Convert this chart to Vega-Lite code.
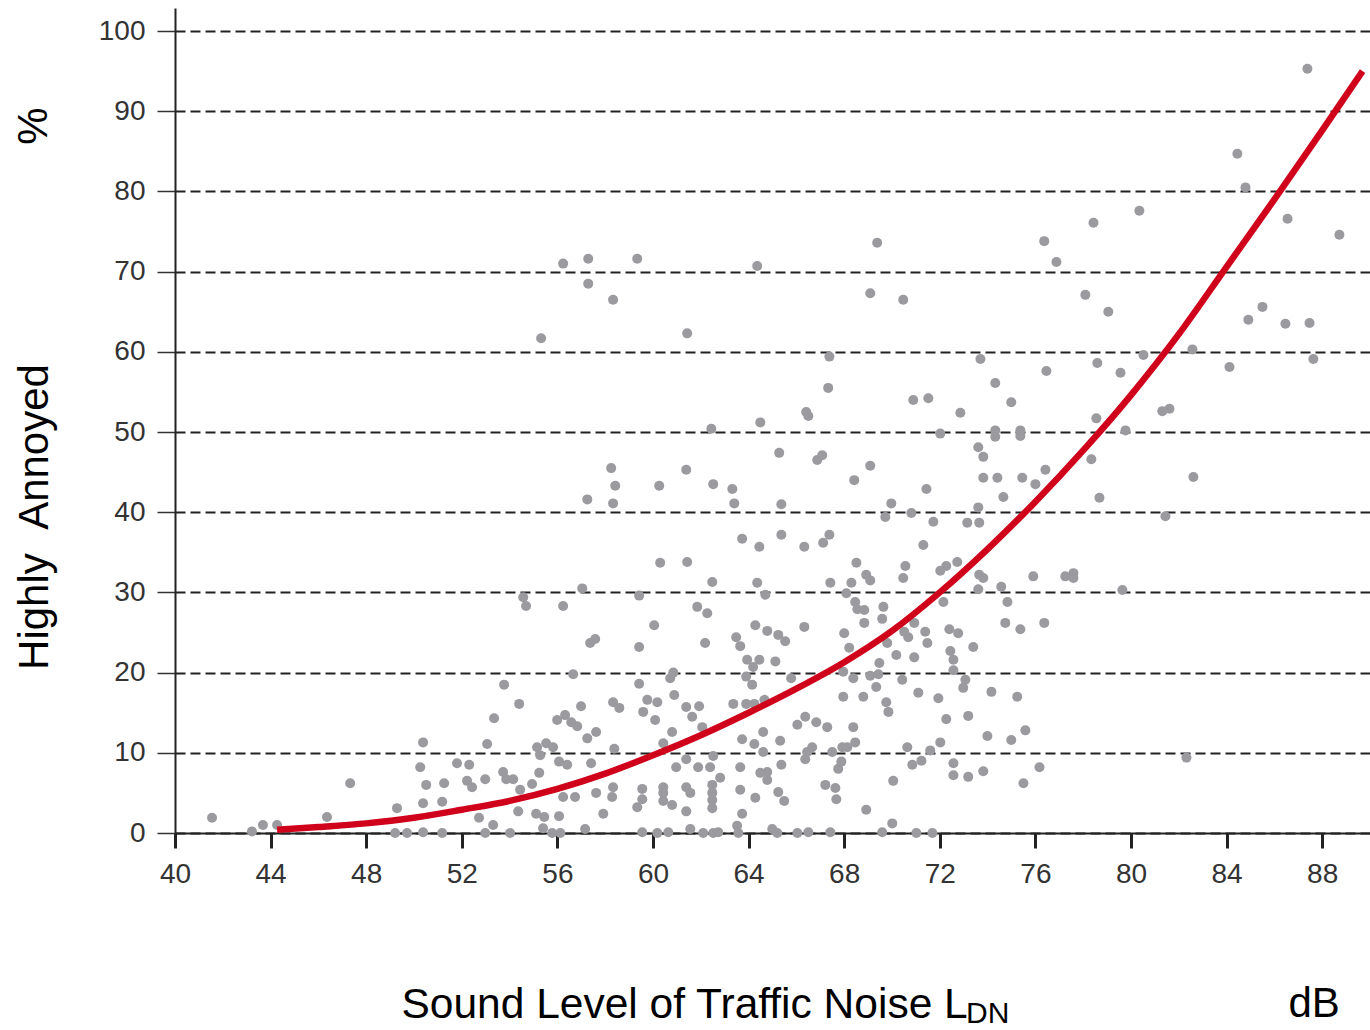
{
"$schema": "https://vega.github.io/schema/vega-lite/v6.json",
"width": 1195, "height": 825,
"autosize": {"type": "none"},
"padding": {"left": 175, "top": 8, "right": 0, "bottom": 197},
"background": "white",
"config": {"font": "Liberation Sans", "view": {"stroke": null}},
"datasets": {
"survey": [
{"L":41.55,"HA":1.9},{"L":43.22,"HA":0.2},{"L":43.68,"HA":1.0},{"L":44.27,"HA":1.0},{"L":46.36,"HA":2.0},{"L":47.33,"HA":6.2},{"L":49.29,"HA":3.1},{"L":49.21,"HA":0},{"L":49.71,"HA":0},{"L":50.38,"HA":11.3},{"L":50.26,"HA":8.2},{"L":50.51,"HA":6.0},{"L":50.38,"HA":3.7},{"L":50.38,"HA":0.1},{"L":51.26,"HA":6.2},{"L":51.18,"HA":3.9},{"L":51.18,"HA":0},{"L":51.80,"HA":8.7},{"L":52.31,"HA":8.5},{"L":52.22,"HA":6.5},{"L":52.43,"HA":5.7},{"L":52.72,"HA":1.9},
{"L":60.30,"HA":33.7},{"L":61.43,"HA":33.8},{"L":62.48,"HA":31.3},{"L":57.04,"HA":30.5},{"L":54.57,"HA":29.4},{"L":54.69,"HA":28.3},{"L":56.24,"HA":28.3},{"L":59.42,"HA":29.6},{"L":61.85,"HA":28.2},{"L":62.27,"HA":27.4},{"L":60.05,"HA":25.9},{"L":57.37,"HA":23.7},{"L":57.58,"HA":24.2},{"L":59.42,"HA":23.2},{"L":62.18,"HA":23.7},{"L":56.66,"HA":19.8},{"L":60.72,"HA":19.3},{"L":60.85,"HA":20.0},{"L":53.77,"HA":18.5},{"L":59.42,"HA":18.6},{"L":60.89,"HA":17.2},{"L":54.40,"HA":16.1},{"L":56.99,"HA":15.8},{"L":58.33,"HA":16.3},{"L":58.59,"HA":15.6},{"L":59.76,"HA":16.6},{"L":60.18,"HA":16.3},{"L":61.39,"HA":15.7},{"L":61.93,"HA":15.8},{"L":59.59,"HA":15.1},{"L":53.35,"HA":14.3},{"L":55.99,"HA":14.1},{"L":56.32,"HA":14.7},{"L":56.58,"HA":13.8},{"L":56.83,"HA":13.3},{"L":60.09,"HA":14.1},{"L":61.64,"HA":14.5},{"L":62.06,"HA":13.2},{"L":57.62,"HA":12.6},{"L":57.25,"HA":11.8},{"L":60.80,"HA":12.6},{"L":53.06,"HA":11.1},{"L":60.43,"HA":11.2},{"L":55.15,"HA":10.7},{"L":55.53,"HA":11.2},{"L":55.82,"HA":10.7},{"L":55.28,"HA":9.7},{"L":58.38,"HA":10.5},{"L":56.07,"HA":8.9},{"L":56.41,"HA":8.5},{"L":57.41,"HA":8.7},{"L":61.39,"HA":9.2},{"L":60.97,"HA":8.2},{"L":61.89,"HA":8.2},{"L":62.39,"HA":8.2},{"L":62.52,"HA":9.6},{"L":53.73,"HA":7.6},{"L":55.24,"HA":7.5},{"L":52.98,"HA":6.7},{"L":53.86,"HA":6.7},{"L":54.15,"HA":6.7},{"L":54.44,"HA":5.4},{"L":54.94,"HA":6.1},{"L":58.33,"HA":5.7},{"L":57.62,"HA":5.0},{"L":56.24,"HA":4.5},{"L":56.74,"HA":4.5},{"L":58.29,"HA":4.5},{"L":59.55,"HA":5.5},{"L":60.43,"HA":5.7},{"L":60.43,"HA":5.0},{"L":61.39,"HA":5.7},{"L":61.56,"HA":5.0},{"L":62.48,"HA":6.0},{"L":62.81,"HA":6.9},{"L":62.48,"HA":5.0},{"L":59.55,"HA":4.2},{"L":59.34,"HA":3.2},{"L":60.43,"HA":4.0},{"L":60.80,"HA":3.5},{"L":62.48,"HA":4.1},{"L":62.48,"HA":3.1},{"L":54.36,"HA":2.7},{"L":55.11,"HA":2.4},{"L":55.45,"HA":2.0},{"L":56.07,"HA":2.1},{"L":57.92,"HA":2.4},{"L":61.39,"HA":2.7},{"L":53.31,"HA":1.0},
{"L":52.98,"HA":0},{"L":54.02,"HA":0},{"L":55.40,"HA":0.6},{"L":55.78,"HA":0},{"L":56.12,"HA":0},{"L":57.16,"HA":0.5},{"L":59.55,"HA":0.1},{"L":60.18,"HA":0},{"L":60.64,"HA":0.1},{"L":61.56,"HA":0.5},{"L":62.10,"HA":0},{"L":62.52,"HA":0},{"L":62.73,"HA":0.1},{"L":63.52,"HA":0.9},{"L":63.57,"HA":0},{"L":64.99,"HA":0.5},{"L":65.20,"HA":0},{"L":66.04,"HA":0},{"L":66.50,"HA":0.1},{"L":67.42,"HA":0.1},{"L":69.59,"HA":0.1},{"L":70.01,"HA":1.2},{"L":71.02,"HA":0},{"L":71.69,"HA":0},
{"L":68.51,"HA":33.7},{"L":70.56,"HA":33.3},{"L":70.47,"HA":31.8},{"L":72.02,"HA":32.7},{"L":72.27,"HA":33.3},{"L":64.36,"HA":31.2},{"L":64.70,"HA":29.7},{"L":67.42,"HA":31.2},{"L":68.30,"HA":31.2},{"L":68.09,"HA":29.9},{"L":68.92,"HA":32.2},{"L":69.09,"HA":31.5},{"L":68.46,"HA":28.8},{"L":68.55,"HA":27.9},{"L":68.84,"HA":27.8},{"L":69.64,"HA":28.2},{"L":69.59,"HA":26.7},{"L":68.84,"HA":26.2},{"L":72.15,"HA":28.8},{"L":64.28,"HA":25.9},{"L":64.78,"HA":25.2},{"L":66.33,"HA":25.7},{"L":63.48,"HA":24.4},{"L":63.65,"HA":23.3},{"L":65.24,"HA":24.7},{"L":65.53,"HA":23.9},{"L":68.00,"HA":24.9},{"L":68.21,"HA":23.1},{"L":69.80,"HA":23.7},{"L":70.51,"HA":25.1},{"L":70.68,"HA":24.4},{"L":70.93,"HA":26.2},{"L":71.39,"HA":25.1},{"L":71.48,"HA":23.7},{"L":72.40,"HA":25.4},{"L":72.77,"HA":24.9},{"L":72.44,"HA":22.7},{"L":72.57,"HA":21.6},{"L":70.18,"HA":22.2},{"L":70.93,"HA":21.9},{"L":63.94,"HA":21.6},{"L":64.45,"HA":21.6},{"L":65.12,"HA":21.4},{"L":64.19,"HA":20.7},{"L":63.90,"HA":19.5},{"L":64.15,"HA":18.5},{"L":65.78,"HA":19.3},{"L":67.96,"HA":20.1},{"L":68.38,"HA":19.3},{"L":69.09,"HA":19.6},{"L":69.47,"HA":21.2},{"L":69.43,"HA":19.8},{"L":69.34,"HA":18.2},{"L":70.43,"HA":19.1},{"L":72.57,"HA":20.3},{"L":63.36,"HA":16.1},{"L":63.90,"HA":16.1},{"L":64.24,"HA":16.1},{"L":64.66,"HA":16.6},{"L":67.96,"HA":17.0},{"L":68.80,"HA":17.0},{"L":69.76,"HA":16.3},{"L":69.85,"HA":15.1},{"L":71.10,"HA":17.5},{"L":71.94,"HA":16.8},{"L":72.27,"HA":14.2},{"L":66.37,"HA":14.5},{"L":66.83,"HA":13.8},{"L":66.04,"HA":13.5},{"L":67.29,"HA":13.2},{"L":68.38,"HA":13.2},{"L":64.61,"HA":12.6},{"L":63.73,"HA":11.7},{"L":65.32,"HA":11.5},{"L":64.24,"HA":11.1},{"L":64.61,"HA":10.1},{"L":66.66,"HA":10.7},{"L":66.45,"HA":10.1},{"L":66.37,"HA":9.2},{"L":67.50,"HA":10.1},{"L":67.92,"HA":10.7},{"L":68.13,"HA":10.7},{"L":68.46,"HA":11.3},{"L":67.88,"HA":8.9},{"L":67.75,"HA":8.0},{"L":70.64,"HA":10.7},{"L":71.60,"HA":10.3},{"L":72.02,"HA":11.3},{"L":71.23,"HA":9.0},{"L":70.85,"HA":8.5},{"L":72.57,"HA":8.7},{"L":72.57,"HA":7.2},{"L":63.65,"HA":8.2},{"L":64.49,"HA":7.5},{"L":64.78,"HA":7.6},{"L":64.78,"HA":6.6},{"L":65.37,"HA":8.5},{"L":63.65,"HA":5.4},{"L":65.24,"HA":5.1},{"L":65.49,"HA":4.0},{"L":64.28,"HA":4.4},{"L":67.21,"HA":6.0},{"L":67.63,"HA":5.6},{"L":67.67,"HA":4.2},{"L":70.05,"HA":6.5},{"L":63.73,"HA":2.4},{"L":68.92,"HA":2.9},
{"L":72.73,"HA":33.8},{"L":73.65,"HA":32.2},{"L":73.82,"HA":31.8},{"L":73.61,"HA":30.4},{"L":74.57,"HA":30.7},{"L":75.91,"HA":32.0},{"L":77.25,"HA":32.0},{"L":77.59,"HA":32.4},{"L":77.59,"HA":31.8},{"L":79.64,"HA":30.3},{"L":74.83,"HA":28.8},{"L":74.74,"HA":26.2},{"L":75.37,"HA":25.4},{"L":76.37,"HA":26.2},{"L":73.40,"HA":23.2},{"L":73.07,"HA":19.1},{"L":72.98,"HA":18.1},{"L":74.16,"HA":17.6},{"L":75.24,"HA":17.0},{"L":73.19,"HA":14.6},{"L":73.99,"HA":12.1},{"L":74.99,"HA":11.6},{"L":75.58,"HA":12.8},{"L":73.19,"HA":7.0},{"L":73.82,"HA":7.7},{"L":75.50,"HA":6.2},{"L":76.17,"HA":8.2},{"L":82.32,"HA":9.4},
{"L":56.24,"HA":71.0},{"L":57.29,"HA":71.6},{"L":57.29,"HA":68.5},{"L":58.33,"HA":66.5},{"L":59.34,"HA":71.6},{"L":64.36,"HA":70.7},{"L":69.38,"HA":73.6},{"L":69.09,"HA":67.3},{"L":70.47,"HA":66.5},{"L":55.32,"HA":61.7},{"L":61.43,"HA":62.3},{"L":67.38,"HA":59.4},{"L":67.33,"HA":55.5},{"L":70.89,"HA":54.0},{"L":71.52,"HA":54.2},{"L":72.86,"HA":52.4},{"L":66.41,"HA":52.5},{"L":66.50,"HA":52.0},{"L":64.49,"HA":51.2},{"L":62.44,"HA":50.4},{"L":72.02,"HA":49.8},{"L":65.28,"HA":47.4},{"L":66.87,"HA":46.5},{"L":67.08,"HA":47.1},{"L":58.25,"HA":45.5},{"L":61.39,"HA":45.3},{"L":69.09,"HA":45.8},{"L":58.42,"HA":43.3},{"L":60.26,"HA":43.3},{"L":62.52,"HA":43.5},{"L":63.32,"HA":42.9},{"L":68.42,"HA":44.0},{"L":71.44,"HA":42.9},{"L":57.25,"HA":41.6},{"L":58.33,"HA":41.1},{"L":63.40,"HA":41.1},{"L":65.37,"HA":41.0},{"L":69.97,"HA":41.1},{"L":69.72,"HA":39.4},{"L":70.81,"HA":39.9},{"L":71.73,"HA":38.8},{"L":63.73,"HA":36.7},{"L":64.45,"HA":35.7},{"L":65.37,"HA":37.2},{"L":66.33,"HA":35.7},{"L":67.12,"HA":36.2},{"L":67.38,"HA":37.2},{"L":71.31,"HA":35.9},
{"L":87.38,"HA":95.3},{"L":84.45,"HA":84.7},{"L":84.79,"HA":80.5},{"L":80.35,"HA":77.6},{"L":78.43,"HA":76.1},{"L":76.37,"HA":73.8},{"L":86.55,"HA":76.6},{"L":88.72,"HA":74.6},{"L":76.88,"HA":71.2},{"L":78.09,"HA":67.1},{"L":79.05,"HA":65.0},{"L":85.50,"HA":65.6},{"L":84.91,"HA":64.0},{"L":86.46,"HA":63.5},{"L":87.47,"HA":63.6},{"L":82.57,"HA":60.3},{"L":80.52,"HA":59.6},{"L":78.59,"HA":58.6},{"L":79.56,"HA":57.4},{"L":84.12,"HA":58.1},{"L":87.63,"HA":59.1},{"L":73.70,"HA":59.1},{"L":76.46,"HA":57.6},{"L":74.32,"HA":56.1},{"L":74.99,"HA":53.7},{"L":81.31,"HA":52.6},{"L":81.61,"HA":52.9},{"L":78.55,"HA":51.7},{"L":79.77,"HA":50.2},{"L":74.32,"HA":50.2},{"L":74.32,"HA":49.4},{"L":75.37,"HA":50.2},{"L":75.37,"HA":49.5},{"L":73.61,"HA":48.1},{"L":73.82,"HA":46.9},{"L":73.82,"HA":44.3},{"L":74.41,"HA":44.3},{"L":75.45,"HA":44.3},{"L":76.00,"HA":43.5},{"L":76.42,"HA":45.3},{"L":78.34,"HA":46.6},{"L":74.66,"HA":41.9},{"L":78.68,"HA":41.8},{"L":82.61,"HA":44.4},{"L":73.61,"HA":40.6},{"L":73.15,"HA":38.7},{"L":73.65,"HA":38.7},{"L":81.44,"HA":39.5}
],
"fit": [
{"L":44.27,"HA":0.4},{"L":46,"HA":0.75},{"L":48,"HA":1.2},{"L":50,"HA":1.9},{"L":52,"HA":2.9},{"L":54,"HA":4.0},{"L":56,"HA":5.5},{"L":58,"HA":7.4},{"L":60,"HA":9.7},{"L":62,"HA":12.2},{"L":64,"HA":15.0},{"L":66,"HA":18.0},{"L":68,"HA":21.3},{"L":70,"HA":25.2},{"L":72,"HA":30.0},{"L":74,"HA":35.4},{"L":76,"HA":41.3},{"L":78,"HA":47.7},{"L":80,"HA":54.6},{"L":82,"HA":62.2},{"L":84,"HA":70.6},{"L":86,"HA":79.0},{"L":88,"HA":87.6},{"L":89.69,"HA":95.0}
],
"pct": [{"label": "%"}],
"sub": [{"label": "DN"}],
"unit": [{"label": "dB"}]
},
"layer": [
{"data": {"name": "survey"}, "mark": {"type": "circle", "size": 100, "color": "#9b9b9f", "opacity": 1},
 "encoding": {
 "x": {"field": "L", "type": "quantitative",
  "scale": {"domain": [40, 90], "nice": false, "zero": false},
  "axis": {"values": [40,44,48,52,56,60,64,68,72,76,80,84,88], "grid": false,
   "domainColor": "#222", "domainWidth": 2, "tickColor": "#222", "tickWidth": 3, "tickSize": 15,
   "labelFontSize": 28, "labelColor": "#333", "labelPadding": 12, "labelFlush": false, "labelOverlap": false,
   "title": "Sound Level of Traffic Noise L", "titleFontSize": 42.5, "titleFontWeight": "normal", "titleColor": "#000",
   "titleX": 226, "titleY": 184, "titleAlign": "left", "titleBaseline": "alphabetic"}},
 "y": {"field": "HA", "type": "quantitative",
  "scale": {"domain": [0, 102.87], "nice": false},
  "axis": {"values": [0,10,20,30,40,50,60,70,80,90,100], "grid": true,
   "gridDash": [10, 5], "gridColor": "#222", "gridWidth": 1.8,
   "domainColor": "#222", "domainWidth": 2, "tickColor": "#333", "tickWidth": 1.5, "tickSize": 18,
   "labelFontSize": 28, "labelColor": "#333", "labelPadding": 12, "labelOverlap": false,
   "title": "Highly\u00a0\u00a0Annoyed", "titleFontSize": 42, "titleFontWeight": "normal", "titleColor": "#000",
   "titleX": -128, "titleY": 508.5, "titleAlign": "center", "titleBaseline": "alphabetic", "titleAngle": 270}}
 }},
{"data": {"name": "fit"}, "mark": {"type": "line", "color": "#d0021b", "strokeWidth": 6.5, "interpolate": "monotone"},
 "encoding": {
 "x": {"field": "L", "type": "quantitative", "scale": {"domain": [40, 90], "nice": false, "zero": false}},
 "y": {"field": "HA", "type": "quantitative", "scale": {"domain": [0, 102.87], "nice": false}}
 }},
{"data": {"name": "pct"}, "mark": {"type": "text", "clip": false, "fontSize": 42, "angle": 270, "align": "center", "baseline": "alphabetic", "color": "#000"},
 "encoding": {
 "x": {"datum": 34.64, "type": "quantitative", "scale": {"domain": [40, 90], "nice": false, "zero": false}},
 "y": {"datum": 88.15, "type": "quantitative", "scale": {"domain": [0, 102.87], "nice": false}},
 "text": {"field": "label", "type": "nominal"}}},
{"data": {"name": "sub"}, "mark": {"type": "text", "clip": false, "fontSize": 30, "align": "left", "baseline": "alphabetic", "color": "#000"},
 "encoding": {
 "x": {"datum": 73.1, "type": "quantitative", "scale": {"domain": [40, 90], "nice": false, "zero": false}},
 "y": {"datum": -23.7, "type": "quantitative", "scale": {"domain": [0, 102.87], "nice": false}},
 "text": {"field": "label", "type": "nominal"}}},
{"data": {"name": "unit"}, "mark": {"type": "text", "clip": false, "fontSize": 42, "align": "left", "baseline": "alphabetic", "color": "#000"},
 "encoding": {
 "x": {"datum": 86.59, "type": "quantitative", "scale": {"domain": [40, 90], "nice": false, "zero": false}},
 "y": {"datum": -22.94, "type": "quantitative", "scale": {"domain": [0, 102.87], "nice": false}},
 "text": {"field": "label", "type": "nominal"}}}
]
}
